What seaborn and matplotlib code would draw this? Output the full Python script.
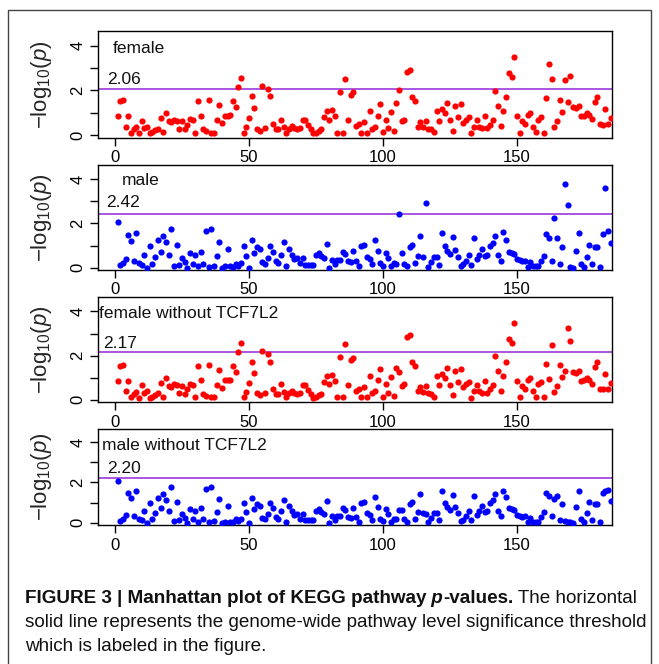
import numpy as np
import pandas as pd
import matplotlib
matplotlib.use("Agg")
import matplotlib.pyplot as plt
import seaborn as sns
from matplotlib.patches import Rectangle

# ----------------------------------------
# DATA  (-log10 p per KEGG pathway)
# ----------------------------------------

female = [0.87, 1.51, 1.59, 0.38, 0.87, 0.12, 0.26, 0.35, 0.09, 0.65,
          0.32, 0.38, 0.09, 0.15, 0.23, 0.29, 0.76, 0.15, 0.97, 0.63,
          0.59, 0.70, 0.65, 0.29, 0.62, 0.26, 0.47, 0.73, 0.69, 0.12,
          1.54, 0.88, 0.26, 0.18, 1.59, 0.12, 0.12, 0.68, 1.35, 0.53,
          0.88, 0.88, 0.91, 1.54, 1.26, 2.16, 2.57, 0.12, 0.35, 0.76,
          1.73, 1.20, 0.29, 0.21, 2.19, 0.31, 2.07, 1.73, 0.50, 0.26,
          0.26, 0.70, 0.35, 0.12, 0.29, 0.41, 0.32, 0.26, 0.32, 0.68,
          0.68, 0.44, 0.26, 0.09, 0.12, 0.21, 0.26, 0.82, 1.06, 0.70,
          1.12, 0.85, 0.12, 1.95, 0.12, 2.51, 0.66, 1.79, 1.91, 0.41,
          0.50, 0.12, 0.59, 0.12, 1.09, 0.29, 0.38, 0.88, 1.41, 0.15,
          0.70, 0.32, 1.03, 0.18, 1.44, 2.03, 0.62, 0.70, 2.83, 2.91,
          1.70, 1.53, 0.38, 0.59, 0.35, 0.62, 0.29, 0.26, 0.15, 1.09,
          0.65, 1.15, 1.00, 1.44, 0.68, 0.21, 1.32, 0.82, 1.38, 0.56,
          0.70, 0.82, 0.09, 0.38, 0.68, 0.38, 0.32, 0.85, 0.32, 0.47,
          0.68, 1.97, 1.32, 0.41, 1.09, 1.70, 2.76, 2.58, 3.47, 0.85,
          0.12, 0.62, 0.50, 0.91, 0.97, 0.38, 0.15, 0.70, 0.82, 0.12,
          1.64, 3.17, 2.50, 0.35, 0.62, 1.59, 1.03, 2.47, 1.47, 2.64,
          1.26, 1.20, 1.32, 0.85, 0.88, 1.00, 0.91, 0.73, 1.50, 1.70,
          0.50, 0.47, 1.15, 0.48, 0.78]

male = [2.06, 0.10, 0.21, 0.40, 1.46, 1.21, 0.32, 1.56, 0.21, 0.12,
        0.59, 0.00, 0.97, 0.18, 0.47, 1.24, 0.71, 1.41, 1.15, 0.56,
        1.77, 0.09, 1.03, 0.12, 0.44, 0.26, 0.00, 0.68, 0.18, 0.59,
        0.06, 0.71, 0.18, 1.68, 0.03, 1.77, 0.09, 0.53, 1.18, 0.00,
        0.06, 0.85, 0.06, 0.03, 0.18, 0.09, 0.21, 1.00, 0.53, 0.00,
        1.24, 0.68, 0.94, 0.82, 0.24, 0.18, 0.44, 0.97, 0.71, 0.29,
        0.21, 0.56, 1.15, 0.06, 0.85, 0.56, 0.41, 0.44, 0.21, 0.44,
        0.12, 0.12, 0.12, 0.12, 0.59, 0.68, 0.53, 0.44, 1.09, 0.00,
        0.35, 0.15, 0.35, 0.35, 0.71, 0.62, 0.29, 0.24, 0.74, 0.29,
        0.06, 0.97, 1.03, 0.50, 0.38, 0.15, 1.27, 0.77, 0.21, 0.09,
        0.68, 0.44, 0.06, 0.21, 0.18, 2.42, 0.65, 0.18, 0.06, 0.94,
        1.03, 0.21, 0.53, 1.44, 0.50, 2.94, 0.03, 0.26, 0.50, 0.50,
        0.12, 1.56, 1.00, 0.77, 0.62, 1.38, 0.79, 0.50, 0.09, 0.15,
        0.32, 0.56, 0.12, 1.32, 0.38, 0.56, 0.85, 0.53, 0.56, 0.97,
        1.12, 1.41, 0.56, 0.32, 1.59, 1.27, 0.71, 0.68, 0.62, 0.41,
        0.35, 0.29, 0.32, 0.03, 0.26, 0.06, 0.06, 0.06, 0.29, 0.53,
        1.50, 1.35, 0.32, 2.24, 1.35, 0.15, 0.91, 3.80, 2.83, 0.03,
        0.00, 0.77, 1.56, 0.18, 0.03, 0.50, 1.03, 0.15, 0.94, 0.94,
        0.03, 1.50, 3.62, 1.65, 1.10]

female_wo = [0.87, 1.51, 1.59, 0.38, 0.87, 0.12, 0.26, 0.35, 0.09, 0.65,
             0.32, 0.38, 0.09, 0.15, 0.23, 0.29, 0.76, 0.15, 0.97, 0.63,
             0.59, 0.70, 0.65, 0.29, 0.62, 0.26, 0.47, 0.73, 0.69, 0.12,
             1.54, 0.88, 0.26, 0.18, 1.59, 0.12, 0.12, 0.68, 1.35, 0.53,
             0.88, 0.88, 0.91, 1.54, 1.26, 2.16, 2.57, 0.12, 0.35, 0.76,
             1.73, 1.20, 0.29, 0.21, 2.19, 0.31, 2.07, 1.73, 0.50, 0.26,
             0.26, 0.70, 0.35, 0.12, 0.29, 0.41, 0.32, 0.26, 0.32, 0.68,
             0.68, 0.44, 0.26, 0.09, 0.12, 0.21, 0.26, 0.82, 1.06, 0.70,
             1.12, 0.85, 0.12, 1.95, 0.12, 2.51, 0.66, 1.79, 1.91, 0.41,
             0.50, 0.12, 0.59, 0.12, 1.09, 0.29, 0.38, 0.88, 1.41, 0.15,
             0.70, 0.32, 1.03, 0.18, 1.44, 1.28, 0.62, 0.70, 2.83, 2.91,
             1.70, 1.53, 0.38, 0.59, 0.35, 0.62, 0.29, 0.26, 0.15, 1.09,
             0.65, 1.15, 1.00, 1.44, 0.68, 0.21, 1.32, 0.82, 1.38, 0.56,
             0.70, 0.82, 0.09, 0.38, 0.68, 0.38, 0.32, 0.85, 0.32, 0.47,
             0.68, 1.97, 1.32, 0.41, 1.09, 1.70, 2.76, 2.58, 3.47, 0.85,
             0.12, 0.62, 0.50, 0.91, 0.97, 0.38, 0.15, 0.70, 0.82, 0.12,
             1.64, 0.95, 2.50, 0.35, 0.62, 1.59, 1.03, 1.30, 3.24, 2.64,
             1.26, 1.20, 1.32, 0.85, 0.88, 1.00, 0.91, 0.73, 1.50, 1.70,
             0.50, 0.47, 1.15, 0.48, 0.78]

male_wo = [2.06, 0.10, 0.21, 0.40, 1.46, 1.21, 0.32, 1.56, 0.21, 0.12,
           0.59, 0.00, 0.97, 0.18, 0.47, 1.24, 0.71, 1.41, 1.15, 0.56,
           1.77, 0.09, 1.03, 0.12, 0.44, 0.26, 0.00, 0.68, 0.18, 0.59,
           0.06, 0.71, 0.18, 1.68, 0.03, 1.77, 0.09, 0.53, 1.18, 0.00,
           0.06, 0.85, 0.06, 0.03, 0.18, 0.09, 0.21, 1.00, 0.53, 0.00,
           1.24, 0.68, 0.94, 0.82, 0.24, 0.18, 0.44, 0.97, 0.71, 0.29,
           0.21, 0.56, 1.15, 0.06, 0.85, 0.56, 0.41, 0.44, 0.21, 0.44,
           0.12, 0.12, 0.12, 0.12, 0.59, 0.68, 0.53, 0.44, 1.09, 0.00,
           0.35, 0.15, 0.35, 0.35, 0.71, 0.62, 0.29, 0.24, 0.74, 0.29,
           0.06, 0.97, 1.03, 0.50, 0.38, 0.15, 1.27, 0.77, 0.21, 0.09,
           0.68, 0.44, 0.06, 0.21, 0.18, 0.62, 0.65, 0.18, 0.06, 0.94,
           1.03, 0.21, 0.53, 1.44, 0.50, 0.45, 0.03, 0.26, 0.50, 0.50,
           0.12, 1.56, 1.00, 0.77, 0.62, 1.38, 0.79, 0.50, 0.09, 0.15,
           0.32, 0.56, 0.12, 1.32, 0.38, 0.56, 0.85, 0.53, 0.56, 0.97,
           1.12, 1.41, 0.56, 0.32, 1.59, 1.27, 0.71, 0.68, 0.62, 0.41,
           0.35, 0.29, 0.32, 0.03, 0.26, 0.06, 0.06, 0.06, 0.29, 0.53,
           1.50, 1.35, 0.32, 1.20, 1.35, 0.15, 0.91, 0.10, 0.05, 0.03,
           0.00, 0.77, 1.56, 0.18, 0.03, 0.50, 1.03, 0.15, 0.94, 0.94,
           0.03, 1.50, 1.60, 1.65, 1.10]

panel_names = ["female", "male", "female without TCF7L2", "male without TCF7L2"]
panel_values = [female, male, female_wo, male_wo]
panel_colors = ["#ff0000", "#0000ff", "#ff0000", "#0000ff"]
thresholds = [2.06, 2.42, 2.17, 2.20]
threshold_labels = ["2.06", "2.42", "2.17", "2.20"]
x_ticks = [0, 50, 100, 150]
y_ticks = [0, 1, 2, 3, 4]
y_ticklabels = ["0", "", "2", "", "4"]

# ----------------------------------------
# STYLE
# ----------------------------------------

sns.set_style("ticks")
plt.rcParams["font.family"] = ["Liberation Sans", "DejaVu Sans"]
plt.rcParams["mathtext.fontset"] = "custom"
plt.rcParams["mathtext.rm"] = "Liberation Sans"
plt.rcParams["mathtext.it"] = "Liberation Sans:italic"
plt.rcParams["axes.edgecolor"] = "black"
plt.rcParams["axes.linewidth"] = 1.0

W, H = 659, 664
fig = plt.figure(figsize=(W / 100, H / 100), dpi=100)

# panel boxes in pixels (top, bottom)
left_px, right_px = 97.7, 612
boxes = [(31, 137.7), (165, 270), (297, 402.3), (429, 525)]
name_pos = [(0.029, 0.794), (0.047, 0.81), (0.003, 0.803), (0.008, 0.781)]
thr_pos = [(0.018, 0.503), (0.016, 0.597), (0.010, 0.519), (0.018, 0.542)]
PURPLE = "#a855e0"

for i in range(4):
    top, bot = boxes[i]
    ax = fig.add_axes([left_px / W, 1 - bot / H, (right_px - left_px) / W, (bot - top) / H])
    vals = panel_values[i]
    df = pd.DataFrame({"pathway": np.arange(1, len(vals) + 1), "logp": vals})
    ax.axhline(thresholds[i], color=PURPLE, lw=1.4, zorder=1)
    sns.scatterplot(data=df, x="pathway", y="logp", color=panel_colors[i],
                    s=20, linewidth=0, ax=ax, zorder=3)
    ax.set_xlim(-6.45, 185.5)
    ax.set_ylim(-0.11, 4.65)
    ax.set_xticks(x_ticks)
    ax.set_yticks(y_ticks)
    ax.set_yticklabels(y_ticklabels, rotation=90, va="center")
    ax.tick_params(direction="out", length=6, width=1, labelsize=12,
                   colors="black", pad=3)
    ax.set_xlabel("")
    ax.set_ylabel(r"$-\mathrm{log}_{10}(p)$", fontsize=16, labelpad=12)
    for s in ax.spines.values():
        s.set_visible(True)
        s.set_linewidth(1.0)
    ax.text(name_pos[i][0], name_pos[i][1], panel_names[i], transform=ax.transAxes,
            fontsize=12.5, va="baseline", ha="left", color="#111111")
    ax.text(thr_pos[i][0], thr_pos[i][1], threshold_labels[i], transform=ax.transAxes,
            fontsize=12.5, va="baseline", ha="left", color="#111111")

# outer frame round the figure
fig.add_artist(Rectangle((8 / W, -0.02), (651 - 8) / W, 1.02 - 10 / H,
                         transform=fig.transFigure, fill=False,
                         edgecolor="#444444", lw=1.0))

# ----------------------------------------
# CAPTION
# ----------------------------------------

renderer = fig.canvas.get_renderer()
cap_size = 13.6
x = 25 / W
y1 = 1 - 603 / H
pieces = [("FIGURE 3 | Manhattan plot of KEGG pathway", "bold", "normal"),
          (" p", "bold", "italic"),
          ("-values.", "bold", "normal"),
          (" The horizontal", "normal", "normal")]
for txt, wt, st in pieces:
    t = fig.text(x, y1, txt, fontsize=cap_size, fontweight=wt, fontstyle=st,
                 va="baseline", ha="left", color="#111111")
    bb = t.get_window_extent(renderer=renderer)
    x = bb.x1 / W

fig.text(25 / W, 1 - 627 / H,
         "solid line represents the genome-wide pathway level significance threshold",
         fontsize=cap_size, va="baseline", ha="left", color="#111111")
fig.text(25 / W, 1 - 651 / H, "which is labeled in the figure.",
         fontsize=cap_size, va="baseline", ha="left", color="#111111")

fig.savefig("out.png", dpi=100)
